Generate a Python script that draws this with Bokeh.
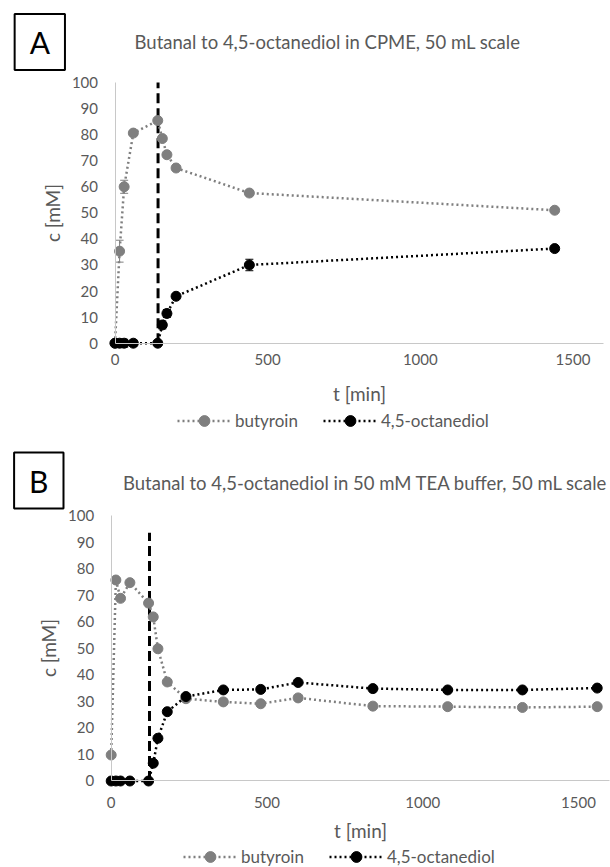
from bokeh.plotting import figure
from bokeh.models import (Range1d, FixedTicker, Label, Legend, LegendItem, Whisker,
                          ColumnDataSource, TeeHead)
from bokeh.layouts import column
from bokeh.embed import file_html
from bokeh.resources import INLINE

# ---------------- data ----------------
# Panel A: Butanal to 4,5-octanediol in CPME
tA = [0, 15, 30, 60, 140, 155, 170, 200, 440, 1440]
butyroin_A = [0, 35.3, 60.0, 80.6, 85.4, 78.5, 72.3, 67.2, 57.6, 51.0]
butyroin_A_err = [0, 4.2, 2.5, 1.0, 1.0, 1.0, 0.8, 1.0, 1.0, 0.8]
octanediol_A = [0, 0, 0, 0, 0, 7.0, 11.4, 18.0, 30.0, 36.3]
octanediol_A_err = [0.5, 1.5, 1.5, 1.2, 0.5, 1.5, 1.5, 1.0, 2.2, 1.0]
feed_A = 141
feed_A_top = 100

# Panel B: Butanal to 4,5-octanediol in 50 mM TEA buffer
tB = [0, 15, 30, 60, 120, 135, 150, 180, 240, 360, 480, 600, 840, 1080, 1320, 1560]
butyroin_B = [9.8, 75.7, 68.8, 74.7, 67.0, 61.8, 49.8, 37.3, 31.0, 29.8, 29.1, 31.3,
              28.2, 28.0, 27.7, 28.0]
octanediol_B = [0, 0, 0, 0, 0, 6.7, 16.1, 26.1, 31.8, 34.3, 34.5, 37.1, 34.8, 34.3,
                34.3, 35.0]
feed_B = 123
feed_B_top = 93.5

x_ticks = [0, 500, 1000, 1500]
y_ticks = [0, 10, 20, 30, 40, 50, 60, 70, 80, 90, 100]
x_bounds = (0, 1600)
y_bounds = (0, 100)
series_names = ["butyroin", "4,5-octanediol"]
x_label = "t [min]"
y_label = "c [mM]"
title_A = "Butanal to 4,5-octanediol in CPME, 50 mL scale"
title_B = "Butanal to 4,5-octanediol in 50 mM TEA buffer, 50 mL scale"

# ---------------- style ----------------
FONT = "Lato"
TXT = "#595959"
GRAY = "#7f7f7f"
BLACK = "#000000"
AXIS = "#c8c8c8"
W = 610


def panel(letter, title, t, but, octd, but_err, oct_err, feed_t, feed_top, g):
    H = g["H"]
    p = figure(width=W, height=H, output_backend="svg", toolbar_location=None,
               x_range=Range1d(*g["xr"]), y_range=Range1d(*g["yr"]), min_border=0)
    p.outline_line_color = None
    p.grid.visible = False

    for ax in (p.xaxis[0], p.yaxis[0]):
        ax.fixed_location = 0
        ax.axis_line_color = AXIS
        ax.axis_line_width = 1
        ax.major_tick_line_color = None
        ax.minor_tick_line_color = None
        ax.major_tick_out = 0
        ax.major_tick_in = 0
        ax.major_label_text_font = FONT
        ax.major_label_text_font_size = "15px"
        ax.major_label_text_color = TXT
        ax.axis_label_text_font = FONT
        ax.axis_label_text_font_size = "19px"
        ax.axis_label_text_font_style = "normal"
        ax.axis_label_text_color = TXT
    p.xaxis.bounds = x_bounds
    p.yaxis.bounds = y_bounds
    p.xaxis.ticker = FixedTicker(ticks=x_ticks)
    p.yaxis.ticker = FixedTicker(ticks=y_ticks)
    p.xaxis.axis_label = x_label
    p.yaxis.axis_label = y_label
    p.xaxis.major_label_standoff = g["xls"]
    p.xaxis.axis_label_standoff = g["xas"]
    p.yaxis.major_label_standoff = g["yls"]
    p.yaxis.axis_label_standoff = g["yas"]

    # feed (dashed) line
    p.segment(x0=[feed_t], y0=[0], x1=[feed_t], y1=[feed_top],
              line_color=BLACK, line_width=3, line_dash="10 5")

    src_b = ColumnDataSource(dict(t=t, c=but))
    src_o = ColumnDataSource(dict(t=t, c=octd))

    if but_err is not None:
        eb = ColumnDataSource(dict(t=t, lo=[c - e for c, e in zip(but, but_err)],
                                   up=[c + e for c, e in zip(but, but_err)]))
        p.add_layout(Whisker(base="t", lower="lo", upper="up", source=eb,
                             line_color=GRAY, line_width=1,
                             upper_head=TeeHead(size=8, line_color=GRAY),
                             lower_head=TeeHead(size=8, line_color=GRAY)))
    if oct_err is not None:
        eo = ColumnDataSource(dict(t=t, lo=[c - e for c, e in zip(octd, oct_err)],
                                   up=[c + e for c, e in zip(octd, oct_err)]))
        p.add_layout(Whisker(base="t", lower="lo", upper="up", source=eo,
                             line_color=BLACK, line_width=1,
                             upper_head=TeeHead(size=8, line_color=BLACK),
                             lower_head=TeeHead(size=8, line_color=BLACK)))

    lb = p.line("t", "c", source=src_b, line_color=GRAY, line_width=2.5, line_dash="2 3")
    sb = p.scatter("t", "c", source=src_b, size=10, fill_color=GRAY, line_color=GRAY)
    lo = p.line("t", "c", source=src_o, line_color=BLACK, line_width=2.5, line_dash="2 3")
    so = p.scatter("t", "c", source=src_o, size=10, fill_color=BLACK, line_color=BLACK)

    leg = Legend(items=[LegendItem(label=series_names[0], renderers=[lb, sb]),
                        LegendItem(label=series_names[1], renderers=[lo, so])],
                 orientation="horizontal",
                 location=(g["leg_x"], g["leg_y"]),
                 glyph_width=54, glyph_height=27, label_standoff=4, spacing=25,
                 padding=0, margin=0, border_line_color=None,
                 background_fill_alpha=0,
                 label_text_font=FONT, label_text_font_size="17px", label_text_color=TXT)
    p.add_layout(leg)

    p.add_layout(Label(x=g["title_x"], y=H - g["title_y"], x_units="screen",
                       y_units="screen", text=title, text_align="center",
                       text_baseline="middle", text_font=FONT, text_font_size="18.5px",
                       text_color=TXT))
    p.add_layout(Label(x=g["box_x"], y=H - g["box_y"], x_units="screen",
                       y_units="screen", text=letter, text_align="center",
                       text_baseline="middle", text_font=FONT, text_font_size="30px",
                       text_color=BLACK, border_line_color=BLACK, border_line_width=2,
                       background_fill_color="white",
                       padding=dict(left=15, right=15, top=10, bottom=10)))
    return p


# canvas geometry (pixels): panel A occupies rows 0-435, panel B rows 435-867
gA = dict(H=435, xr=(-375.0, 1622.8), yr=(-35.4, 131.45),
          xls=11, xas=13, yls=17, yas=5,
          leg_x=177, leg_y=1.5, title_x=327, title_y=41, box_x=39.3, box_y=41.5)
gB = dict(H=432, xr=(-355.3, 1602.7), yr=(-32.58, 130.13),
          xls=16, xas=8, yls=17, yas=5,
          leg_x=183, leg_y=-3, title_x=365, title_y=47, box_x=38.3, box_y=45)

pA = panel("A", title_A, tA, butyroin_A, octanediol_A, butyroin_A_err, octanediol_A_err,
           feed_A, feed_A_top, gA)
pB = panel("B", title_B, tB, butyroin_B, octanediol_B, None, None, feed_B, feed_B_top, gB)

layout = column(pA, pB, spacing=0)
open("out.html", "w").write(file_html(layout, INLINE))
